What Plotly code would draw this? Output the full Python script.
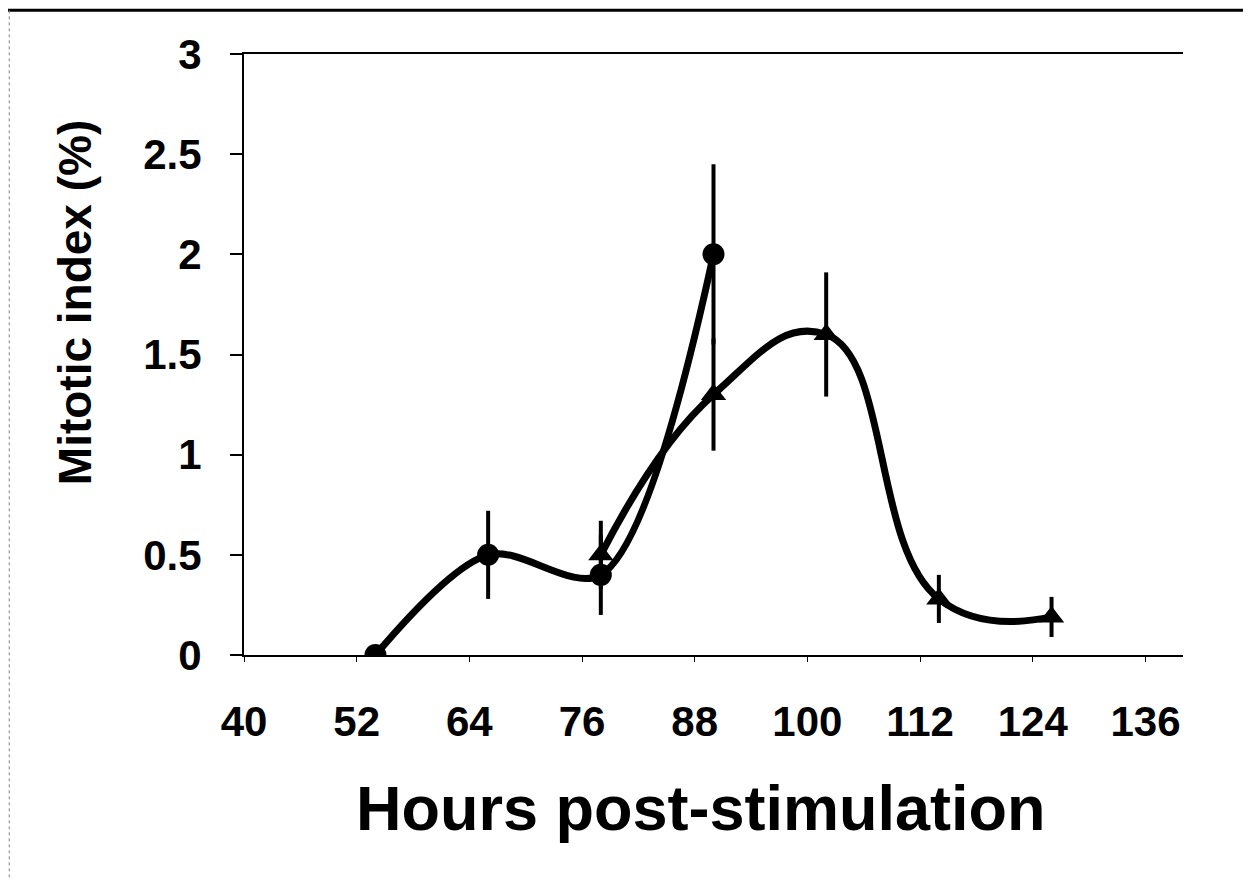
import plotly.graph_objects as go

# Circles series
hours_circle = [54, 66, 78, 90]
mi_circle = [0.0, 0.5, 0.4, 2.0]
err_circle = [0.0, 0.22, 0.2, 0.45]

# Triangles series
hours_tri = [78, 90, 102, 114, 126]
mi_tri = [0.5, 1.3, 1.6, 0.28, 0.19]
err_tri = [0.17, 0.28, 0.31, 0.12, 0.1]

x_ticks = [40, 52, 64, 76, 88, 100, 112, 124, 136]
y_ticks = [0, 0.5, 1, 1.5, 2, 2.5, 3]

FONT = "Liberation Sans"

fig = go.Figure()

fig.add_trace(go.Scatter(
    x=hours_circle, y=mi_circle,
    mode='lines+markers',
    line=dict(color='black', width=7, shape='spline', smoothing=0.9),
    marker=dict(symbol='circle', size=22, color='black'),
    error_y=dict(type='data', array=err_circle, visible=True,
                 color='black', thickness=4, width=0),
    showlegend=False
))

fig.add_trace(go.Scatter(
    x=hours_tri, y=mi_tri,
    mode='lines+markers',
    line=dict(color='black', width=7, shape='spline', smoothing=1.3),
    marker=dict(symbol='triangle-up', size=22, color='black'),
    error_y=dict(type='data', array=err_tri, visible=True,
                 color='black', thickness=4, width=0),
    showlegend=False
))

# page has an 8px body margin, margins below are set so the plot box
# lands at x 244-1183, y 54-655 in the window
fig.update_layout(
    width=1243, height=878,
    margin=dict(l=236, r=68, t=46, b=231),
    plot_bgcolor='white',
    paper_bgcolor='white',
    font=dict(family=FONT, color='black'),
    xaxis=dict(
        range=[40, 140],
        tickvals=x_ticks,
        ticktext=[str(v) for v in x_ticks],
        ticks='outside', ticklen=5, tickwidth=1, tickcolor='black',
        showline=True, linecolor='black', linewidth=2, mirror=True,
        showgrid=False, zeroline=False,
        tickfont=dict(family=FONT, size=42, weight='bold'),
        ticklabelstandoff=24,
    ),
    yaxis=dict(
        range=[0, 3],
        tickvals=y_ticks,
        ticks='outside', ticklen=12, tickwidth=2, tickcolor='black',
        showline=True, linecolor='black', linewidth=2,
        showgrid=False, zeroline=False,
        tickfont=dict(family=FONT, size=42, weight='bold'),
        ticklabelstandoff=20,
    ),
    annotations=[
        # axis titles, placed like the original (y title sits above centre)
        dict(text='Hours post-stimulation', xref='paper', yref='paper',
             x=0.487, y=-0.255, xanchor='center', yanchor='middle',
             showarrow=False,
             font=dict(family=FONT, size=63, weight='bold')),
        dict(text='Mitotic index (%)', xref='paper', yref='paper',
             x=-0.18, y=0.587, xanchor='center', yanchor='middle',
             textangle=-90, showarrow=False,
             font=dict(family=FONT, size=46, weight='bold')),
    ],
    shapes=[
        # scan frame: heavy top edge, dotted left edge
        dict(type='line', xref='paper', yref='paper',
             x0=-0.26, x1=1.073, y0=1.073, y1=1.073,
             line=dict(color='black', width=3)),
        dict(type='line', xref='paper', yref='paper',
             x0=-0.25, x1=-0.25, y0=-0.37, y1=1.073,
             line=dict(color='gray', width=1, dash='dot')),
    ]
)

fig.write_html("out.html")
